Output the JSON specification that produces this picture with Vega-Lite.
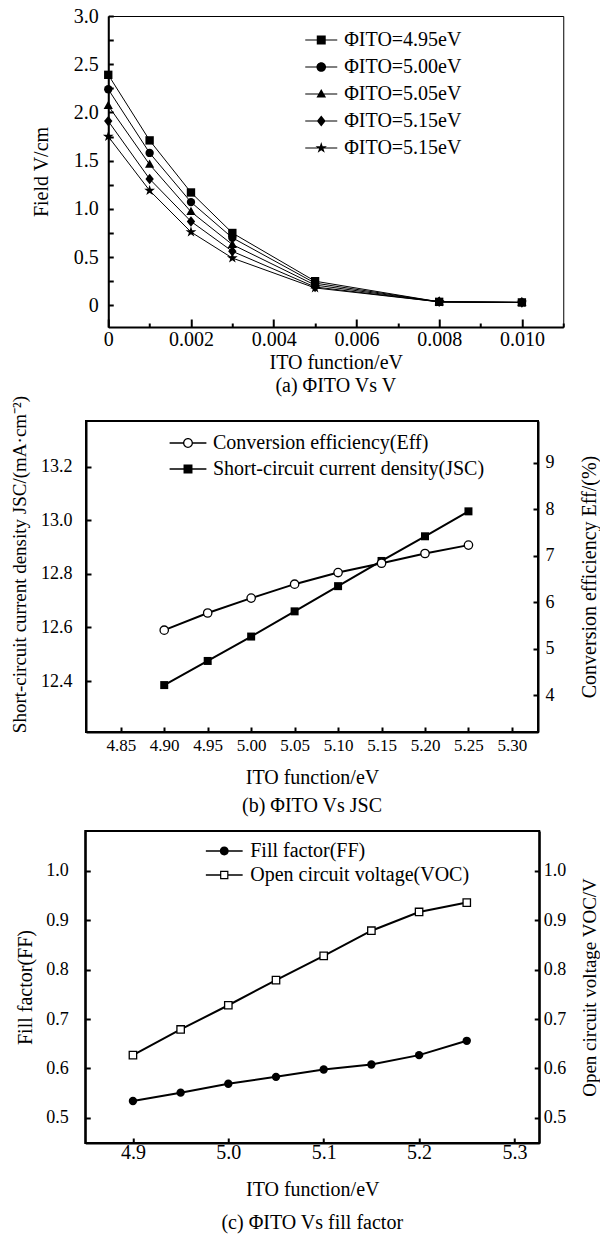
{
  "$schema": "https://vega.github.io/schema/vega-lite/v6.json",
  "padding": {"left": 9, "top": 5, "right": 0, "bottom": 0},
  "spacing": -2,
  "center": true,
  "resolve": {"scale": {"shape": "independent", "fill": "independent"}, "legend": {"shape": "independent", "fill": "independent"}},
  "config": {
    "font": "Liberation Serif",
    "axis": {"labelFont": "Liberation Serif", "titleFont": "Liberation Serif", "labelFontSize": 20, "titleFontSize": 20, "titleFontWeight": "normal", "labelColor": "black", "titleColor": "black", "domainColor": "black", "tickColor": "black", "grid": false, "domainWidth": 2, "tickWidth": 2, "labelOverlap": false, "labelFlush": false},
    "legend": {"labelFont": "Liberation Serif", "labelFontSize": 20, "labelColor": "black", "labelLimit": 500, "symbolOpacity": 1, "padding": 0},
    "title": {"font": "Liberation Serif", "fontSize": 20, "fontWeight": "normal", "color": "black", "subtitleFont": "Liberation Serif"},
    "view": {"stroke": "black", "strokeWidth": 2}
  },
  "vconcat": [
    {
      "width": 455, "height": 311,
      "view": {"stroke": "black", "strokeWidth": 1},
      "title": {"text": "(a) ΦITO Vs V", "orient": "bottom", "offset": 3},
      "data": {"values": [
        {"x": 0, "s": "a", "v": 2.39}, {"x": 0.001, "s": "a", "v": 1.71}, {"x": 0.002, "s": "a", "v": 1.17}, {"x": 0.003, "s": "a", "v": 0.75}, {"x": 0.005, "s": "a", "v": 0.25}, {"x": 0.008, "s": "a", "v": 0.036}, {"x": 0.010, "s": "a", "v": 0.03},
        {"x": 0, "s": "b", "v": 2.24}, {"x": 0.001, "s": "b", "v": 1.58}, {"x": 0.002, "s": "b", "v": 1.07}, {"x": 0.003, "s": "b", "v": 0.70}, {"x": 0.005, "s": "b", "v": 0.23}, {"x": 0.008, "s": "b", "v": 0.036}, {"x": 0.010, "s": "b", "v": 0.03},
        {"x": 0, "s": "c", "v": 2.07}, {"x": 0.001, "s": "c", "v": 1.46}, {"x": 0.002, "s": "c", "v": 0.97}, {"x": 0.003, "s": "c", "v": 0.63}, {"x": 0.005, "s": "c", "v": 0.21}, {"x": 0.008, "s": "c", "v": 0.036}, {"x": 0.010, "s": "c", "v": 0.03},
        {"x": 0, "s": "d", "v": 1.91}, {"x": 0.001, "s": "d", "v": 1.31}, {"x": 0.002, "s": "d", "v": 0.87}, {"x": 0.003, "s": "d", "v": 0.56}, {"x": 0.005, "s": "d", "v": 0.19}, {"x": 0.008, "s": "d", "v": 0.036}, {"x": 0.010, "s": "d", "v": 0.03},
        {"x": 0, "s": "e", "v": 1.75}, {"x": 0.001, "s": "e", "v": 1.19}, {"x": 0.002, "s": "e", "v": 0.76}, {"x": 0.003, "s": "e", "v": 0.49}, {"x": 0.005, "s": "e", "v": 0.18}, {"x": 0.008, "s": "e", "v": 0.036}, {"x": 0.010, "s": "e", "v": 0.03}
      ]},
      "encoding": {
        "x": {"field": "x", "type": "quantitative", "scale": {"domain": [0, 0.011], "nice": false, "zero": false},
          "axis": {"title": "ITO function/eV", "values": [0, 0.001, 0.002, 0.003, 0.004, 0.005, 0.006, 0.007, 0.008, 0.009, 0.010, 0.011],
            "labelExpr": "datum.value == 0 ? '0' : ((round(datum.value * 1000) % 2 == 0 && datum.value < 0.0105) ? format(datum.value, '.3f') : '')",
            "tickSize": {"condition": {"test": "round(datum.value * 1000) % 2 == 0", "value": -8}, "value": -4},
            "labelPadding": 10.5, "titlePadding": -1}}
      },
      "layer": [
        {"mark": {"type": "line", "color": "black", "strokeWidth": 1},
          "encoding": {
            "detail": {"field": "s"},
            "y": {"field": "v", "type": "quantitative", "scale": {"domain": [-0.225, 3.0], "nice": false, "zero": false},
              "axis": {"title": "Field V/cm", "values": [0, 0.25, 0.5, 0.75, 1, 1.25, 1.5, 1.75, 2, 2.25, 2.5, 2.75, 3],
                "labelExpr": "round(datum.value * 4) % 2 == 0 ? (datum.value == 0 ? '0' : format(datum.value, '.1f')) : ''",
                "tickSize": -5, "labelPadding": 15, "titlePadding": 22}}}},
        {"mark": {"type": "point", "filled": true, "color": "black", "opacity": 1, "size": 70},
          "encoding": {
            "y": {"field": "v", "type": "quantitative", "scale": {"domain": [-0.225, 3.0], "nice": false, "zero": false},
              "axis": {"orient": "right", "labels": false, "ticks": false, "domain": false, "title": "I", "titleColor": "white", "titleFontSize": 10, "titlePadding": 4}},
            "shape": {"field": "s", "type": "nominal",
              "scale": {"domain": ["a", "b", "c", "d", "e"], "range": ["square", "circle", "M0,-1.2L1.1,0.8H-1.1Z", "M0,-1.25L1,0L0,1.25L-1,0Z", "M0,-1.35L0.306,-0.421L1.284,-0.417L0.495,0.161L0.794,1.092L0,0.52L-0.794,1.092L-0.495,0.161L-1.284,-0.417L-0.306,-0.421Z"]},
              "legend": null}
          }},
        {"transform": [{"filter": "false"}],
          "mark": {"type": "point", "filled": true, "color": "black", "opacity": 1},
          "encoding": {
            "shape": {"field": "s", "type": "nominal",
              "scale": {"domain": ["a", "b", "c", "d", "e"], "range": [
                "M-2,-0.07H2V0.07H-2ZM-0.56,-0.56H0.56V0.56H-0.56Z",
                "M-2,-0.07H2V0.07H-2ZM-0.6,0A0.6,0.6,0,1,1,0.6,0A0.6,0.6,0,1,1,-0.6,0Z",
                "M-2,-0.07H2V0.07H-2ZM0,-0.62L0.6,0.45H-0.6Z",
                "M-2,-0.07H2V0.07H-2ZM0,-0.7L0.55,0L0,0.7L-0.55,0Z",
                "M-2,-0.07H2V0.07H-2ZM0,-0.75L0.17,-0.234L0.713,-0.232L0.275,0.089L0.441,0.607L0,0.289L-0.441,0.607L-0.275,0.089L-0.713,-0.232L-0.17,-0.234Z"]},
              "legend": {"orient": "none", "legendX": 203, "legendY": 14, "title": null, "rowPadding": 7, "labelOffset": 13, "symbolSize": 256,
                "labelExpr": "datum.value == 'a' ? 'ΦITO=4.95eV' : datum.value == 'b' ? 'ΦITO=5.00eV' : datum.value == 'c' ? 'ΦITO=5.05eV' : 'ΦITO=5.15eV'"}}
          }}
      ],
      "resolve": {"axis": {"y": "independent"}, "scale": {"shape": "independent"}}
    },
    {
      "width": 452, "height": 311,
      "title": {"text": "(b) ΦITO Vs JSC", "orient": "bottom", "offset": 9, "subtitle": " ", "subtitleFontSize": 8, "subtitlePadding": 6},
      "data": {"values": [
        {"x": 4.90, "s": "Jsc", "v": 12.385}, {"x": 4.95, "s": "Jsc", "v": 12.475}, {"x": 5.00, "s": "Jsc", "v": 12.566}, {"x": 5.05, "s": "Jsc", "v": 12.66}, {"x": 5.10, "s": "Jsc", "v": 12.754}, {"x": 5.15, "s": "Jsc", "v": 12.848}, {"x": 5.20, "s": "Jsc", "v": 12.94}, {"x": 5.25, "s": "Jsc", "v": 13.033},
        {"x": 4.90, "s": "Eff", "v": 5.40}, {"x": 4.95, "s": "Eff", "v": 5.77}, {"x": 5.00, "s": "Eff", "v": 6.09}, {"x": 5.05, "s": "Eff", "v": 6.39}, {"x": 5.10, "s": "Eff", "v": 6.64}, {"x": 5.15, "s": "Eff", "v": 6.84}, {"x": 5.20, "s": "Eff", "v": 7.05}, {"x": 5.25, "s": "Eff", "v": 7.23}
      ]},
      "encoding": {
        "x": {"field": "x", "type": "quantitative", "scale": {"domain": [4.81, 5.33], "nice": false, "zero": false},
          "axis": {"title": "ITO function/eV", "values": [4.85, 4.9, 4.95, 5.0, 5.05, 5.1, 5.15, 5.2, 5.25, 5.3], "format": ".2f", "labelFontSize": 17, "tickSize": -5, "labelPadding": 10, "titlePadding": 14}}
      },
      "layer": [
        {"transform": [{"filter": "datum.s == 'Jsc'"}],
          "encoding": {"y": {"field": "v", "type": "quantitative", "scale": {"domain": [12.21, 13.37], "nice": false, "zero": false},
            "axis": {"title": "Short-circuit current density JSC/(mA·cm⁻²)", "titleFontSize": 19, "titleY": 143, "values": [12.4, 12.6, 12.8, 13.0, 13.2], "format": ".1f", "labelFontSize": 18, "tickSize": -5, "labelPadding": 19, "titlePadding": 11}}},
          "layer": [
            {"mark": {"type": "line", "color": "black", "strokeWidth": 2}},
            {"mark": {"type": "point", "filled": true, "shape": "square", "color": "black", "size": 64, "opacity": 1}}
          ]},
        {"transform": [{"filter": "datum.s == 'Eff'"}],
          "encoding": {"y": {"field": "v", "type": "quantitative", "scale": {"domain": [3.21, 9.9], "nice": false, "zero": false},
            "axis": {"orient": "right", "title": "Conversion efficiency Eff/(%)", "titleAngle": 270, "titleBaseline": "top", "values": [4, 5, 6, 7, 8, 9], "labelFontSize": 18, "tickSize": -5, "labelPadding": 12, "titlePadding": 25}}},
          "layer": [
            {"mark": {"type": "line", "color": "black", "strokeWidth": 2}},
            {"mark": {"type": "point", "filled": true, "shape": "circle", "fill": "white", "stroke": "black", "strokeWidth": 1.3, "size": 70, "opacity": 1}}
          ]},
        {"transform": [{"filter": "false"}],
          "mark": {"type": "point", "filled": true, "color": "black", "opacity": 1},
          "encoding": {
            "shape": {"field": "s", "type": "nominal",
              "scale": {"domain": ["Eff", "Jsc"], "range": [
                "M-2.3,-0.1H-0.58V0.1H-2.3ZM0.58,-0.1H2.3V0.1H0.58ZM-0.62,0A0.62,0.62,0,1,1,0.62,0A0.62,0.62,0,1,1,-0.62,0ZM-0.46,0A0.46,0.46,0,1,0,0.46,0A0.46,0.46,0,1,0,-0.46,0Z",
                "M-2.3,-0.1H2.3V0.1H-2.3ZM-0.56,-0.56H0.56V0.56H-0.56Z"]},
              "legend": {"orient": "none", "legendX": 92, "legendY": 12, "title": null, "rowPadding": 6, "labelOffset": 15, "symbolSize": 256,
                "labelExpr": "datum.value == 'Eff' ? 'Conversion efficiency(Eff)' : 'Short-circuit current density(JSC)'"}}
          }}
      ],
      "resolve": {"scale": {"y": "independent", "shape": "independent"}}
    },
    {
      "width": 454, "height": 312,
      "title": {"text": "(c) ΦITO Vs fill factor", "orient": "bottom", "offset": 14},
      "data": {"values": [
        {"x": 4.90, "s": "FF", "v": 0.534}, {"x": 4.95, "s": "FF", "v": 0.551}, {"x": 5.00, "s": "FF", "v": 0.569}, {"x": 5.05, "s": "FF", "v": 0.583}, {"x": 5.10, "s": "FF", "v": 0.598}, {"x": 5.15, "s": "FF", "v": 0.608}, {"x": 5.20, "s": "FF", "v": 0.627}, {"x": 5.25, "s": "FF", "v": 0.656},
        {"x": 4.90, "s": "VOC", "v": 0.627}, {"x": 4.95, "s": "VOC", "v": 0.679}, {"x": 5.00, "s": "VOC", "v": 0.728}, {"x": 5.05, "s": "VOC", "v": 0.779}, {"x": 5.10, "s": "VOC", "v": 0.828}, {"x": 5.15, "s": "VOC", "v": 0.879}, {"x": 5.20, "s": "VOC", "v": 0.917}, {"x": 5.25, "s": "VOC", "v": 0.936}
      ]},
      "encoding": {
        "x": {"field": "x", "type": "quantitative", "scale": {"domain": [4.85, 5.326], "nice": false, "zero": false},
          "axis": {"title": "ITO function/eV", "values": [4.9, 5.0, 5.1, 5.2, 5.3], "format": ".1f", "tickSize": -5, "labelPadding": 4, "titlePadding": 17}}
      },
      "layer": [
        {"transform": [{"filter": "datum.s == 'FF'"}],
          "encoding": {"y": {"field": "v", "type": "quantitative", "scale": {"domain": [0.449, 1.081], "nice": false, "zero": false},
            "axis": {"title": "Fill factor(FF)", "values": [0.5, 0.6, 0.7, 0.8, 0.9, 1.0], "format": ".1f", "labelFontSize": 18, "tickSize": -5, "labelPadding": 22, "titlePadding": 10}}},
          "layer": [
            {"mark": {"type": "line", "color": "black", "strokeWidth": 2}},
            {"mark": {"type": "point", "filled": true, "shape": "circle", "color": "black", "size": 70, "opacity": 1}}
          ]},
        {"transform": [{"filter": "datum.s == 'VOC'"}],
          "encoding": {"y": {"field": "v", "type": "quantitative", "scale": {"domain": [0.449, 1.081], "nice": false, "zero": false},
            "axis": {"orient": "right", "title": "Open circuit voltage VOC/V", "titleFontSize": 19, "titleAngle": 270, "titleBaseline": "top", "values": [0.5, 0.6, 0.7, 0.8, 0.9, 1.0], "format": ".1f", "labelFontSize": 18, "tickSize": -5, "labelPadding": 9, "titlePadding": 15}}},
          "layer": [
            {"mark": {"type": "line", "color": "black", "strokeWidth": 2}},
            {"mark": {"type": "point", "filled": true, "shape": "square", "fill": "white", "stroke": "black", "strokeWidth": 1.3, "size": 55, "opacity": 1}}
          ]},
        {"transform": [{"filter": "false"}],
          "mark": {"type": "point", "filled": true, "color": "black", "opacity": 1},
          "encoding": {
            "shape": {"field": "s", "type": "nominal",
              "scale": {"domain": ["FF", "VOC"], "range": [
                "M-2.3,-0.1H2.3V0.1H-2.3ZM-0.56,0A0.56,0.56,0,1,1,0.56,0A0.56,0.56,0,1,1,-0.56,0Z",
                "M-2.3,-0.1H-0.52V0.1H-2.3ZM0.52,-0.1H2.3V0.1H0.52ZM-0.52,-0.52H0.52V0.52H-0.52ZM-0.37,-0.37V0.37H0.37V-0.37Z"]},
              "legend": {"orient": "none", "legendX": 129, "legendY": 10, "title": null, "rowPadding": 4, "labelOffset": 16, "symbolSize": 256,
                "labelExpr": "datum.value == 'FF' ? 'Fill factor(FF)' : 'Open circuit voltage(VOC)'"}}
          }}
      ],
      "resolve": {"scale": {"y": "independent", "shape": "independent"}}
    }
  ]
}
